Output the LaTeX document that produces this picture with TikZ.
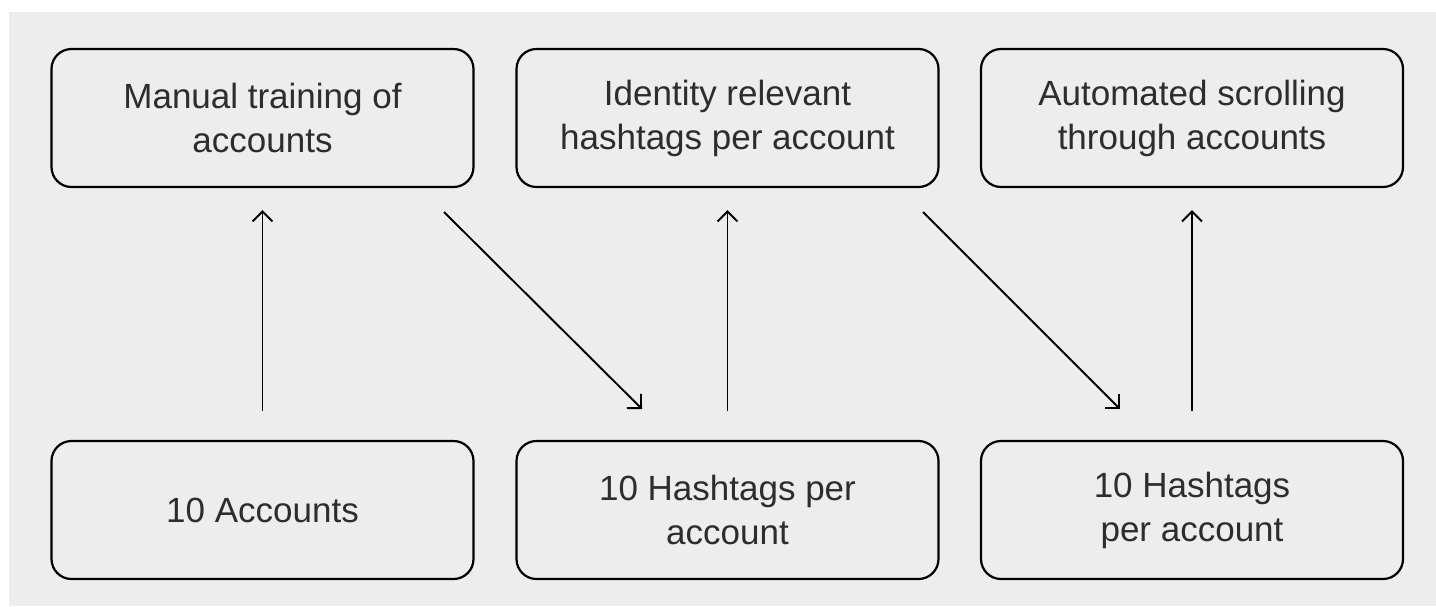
\documentclass[tikz,border=0pt]{standalone}
\usepackage{fontspec}
\setmainfont{Liberation Sans}
\usetikzlibrary{arrows.meta}
\definecolor{bggray}{RGB}{237, 237, 237}
\definecolor{textgray}{RGB}{45, 45, 45}

\begin{document}
\begin{tikzpicture}[x=0.5pt, y=-0.5pt,
    box/.style={draw=black, line width=1.1pt, rounded corners=10pt,
                fill=bggray, minimum width=211pt, minimum height=69pt,
                align=center, text=textgray,
                font=\fontsize{17.5pt}{22pt}\selectfont},
    link/.style={-{Straight Barb[length=5pt, width=10pt]}, line width=0.95pt}]
  % Background
  \useasboundingbox (0,0) rectangle (1436,606);
  \fill[bggray] (9,12) rectangle (1436,606);

  % Top row
  \node[box] (train)  at (262.5,118) {Manual training of\\accounts};
  \node[box] (ident)  at (727.5,118) {Identity relevant\\hashtags per account};
  \node[box] (scroll) at (1192,118)  {Automated scrolling\\through accounts};

  % Bottom row
  \node[box] (acc)   at (262.5,510) {10 Accounts};
  \node[box] (tagsA) at (727.5,510) {10 Hashtags per\\account};
  \node[box] (tagsB) at (1192,510)  {10 Hashtags\\per account};

  % Diagonal ends
  \coordinate (d1s) at (444,212);
  \coordinate (d1e) at (642,409);
  \coordinate (d2s) at (923,212);
  \coordinate (d2e) at (1120,409);

  % Arrows
  \draw[link, shorten <=14.5pt, shorten >=11pt] (acc.north)   -- (train.south);
  \draw[link, shorten <=14.5pt, shorten >=11pt] (tagsA.north) -- (ident.south);
  \draw[link, shorten <=14.5pt, shorten >=11pt] (tagsB.north) -- (scroll.south);
  \draw[link] (d1s) -- (d1e);
  \draw[link] (d2s) -- (d2e);
\end{tikzpicture}
\end{document}
